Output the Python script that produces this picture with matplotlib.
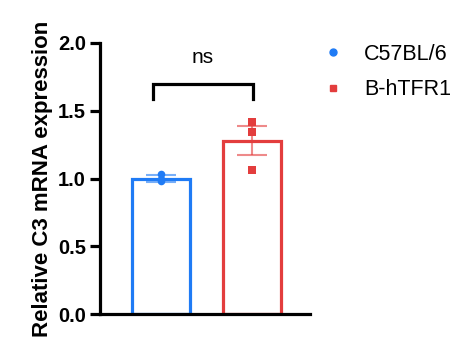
import numpy as np
import matplotlib
matplotlib.use("Agg")
import matplotlib.pyplot as plt
from matplotlib.lines import Line2D

plt.rcParams["font.family"] = ["Liberation Sans", "DejaVu Sans"]

groups = ["C57BL/6", "B-hTFR1"]
colors = ["#1f7bf5", "#e33d3d"]
markers = ["o", "s"]
means = [1.0, 1.277]
sems = [0.025, 0.107]
points = [[1.03, 1.00, 0.98], [1.42, 1.345, 1.066]]

fig = plt.figure(figsize=(4.62, 3.52), dpi=100)
ax = fig.add_axes([100 / 462, 1 - 314 / 352, 210 / 462, 271 / 352])

xs = np.arange(len(groups))
for i in range(len(groups)):
    ax.bar(xs[i], means[i], width=0.64, facecolor="white", edgecolor=colors[i],
           linewidth=2.3, zorder=2)
    ax.errorbar(xs[i], means[i], yerr=sems[i], color=colors[i], alpha=0.6,
                capsize=11, elinewidth=1.5, capthick=1.5, zorder=3)
    ax.scatter([xs[i]] * len(points[i]), points[i], marker=markers[i],
               color=colors[i], s=30, zorder=4, linewidths=0)

# significance bracket
bx0, bx1, by = -0.09, 1.01, 1.70
ax.plot([bx0, bx0, bx1, bx1], [by - 0.11, by, by, by - 0.11], color="black",
        lw=2.3, clip_on=False, solid_joinstyle="miter")
ax.text((bx0 + bx1) / 2, 1.89, "ns", ha="center", va="center", fontsize=15)

ax.set_xlim(-0.67, 1.64)
ax.set_ylim(0, 2.0)
ax.set_yticks([0, 0.5, 1.0, 1.5, 2.0])
ax.set_yticklabels(["0.0", "0.5", "1.0", "1.5", "2.0"], fontsize=14.5, fontweight="bold")
ax.set_xticks([])
ax.set_ylabel("Relative C3 mRNA expression", fontsize=16, fontweight="bold", labelpad=4)
for s in ["top", "right"]:
    ax.spines[s].set_visible(False)
for s in ["left", "bottom"]:
    ax.spines[s].set_linewidth(2.3)
ax.tick_params(axis="y", length=7, width=2.3, pad=3)

handles = [Line2D([], [], marker=markers[i], color=colors[i], linestyle="none",
                  markersize=5) for i in range(2)]
fig.legend(handles, groups, loc="upper left", bbox_to_anchor=(322 / 462, 1 - 44 / 352),
           frameon=False, fontsize=15.5, handlelength=1.0, handletextpad=0.94,
           labelspacing=0.67, borderpad=0, borderaxespad=0)

fig.savefig("out.png", dpi=100)
